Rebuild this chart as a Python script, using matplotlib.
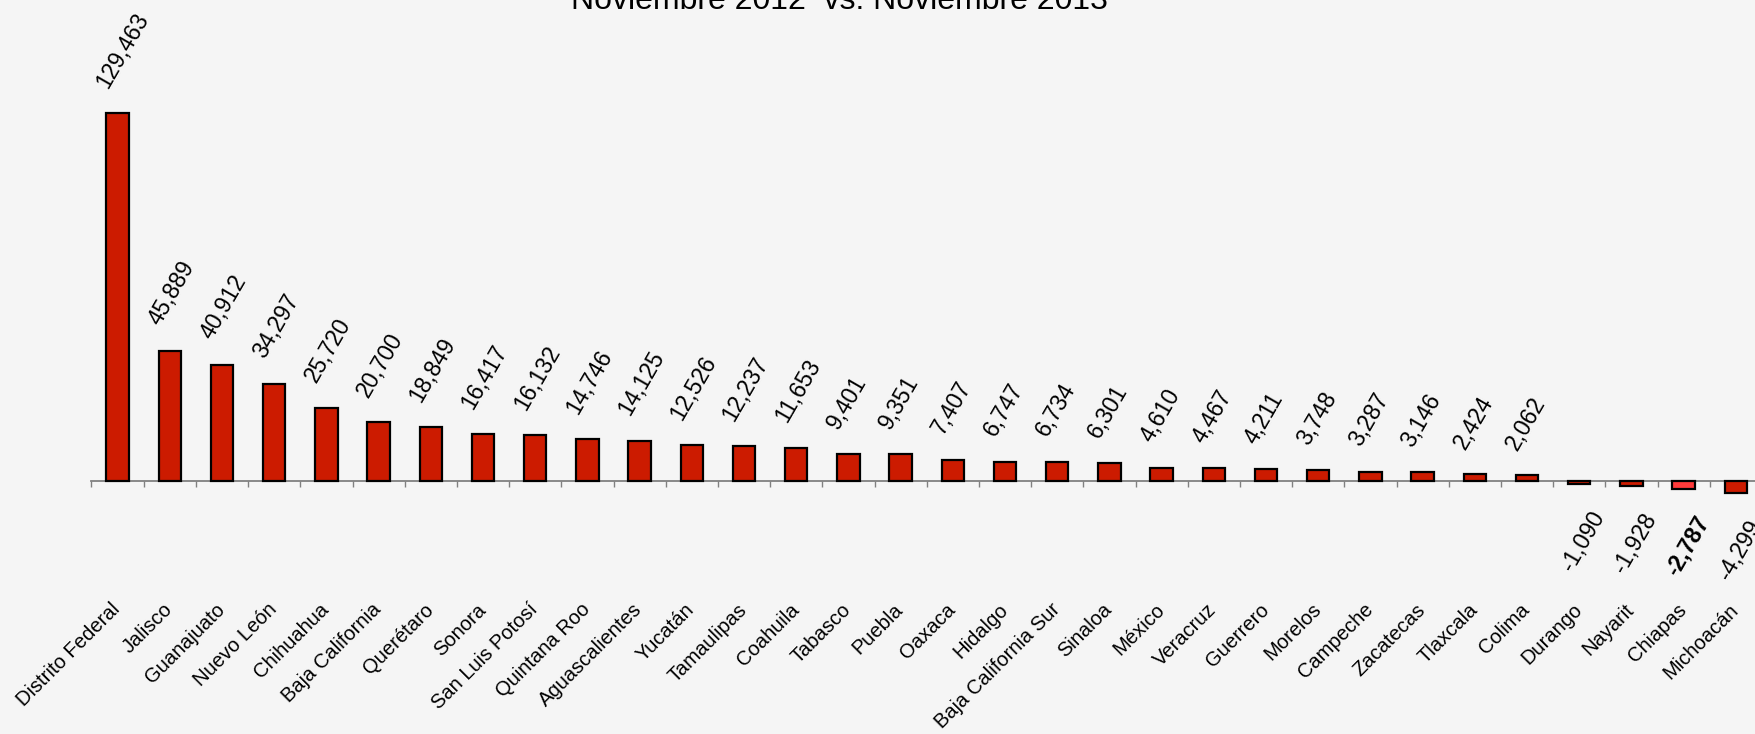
import numpy as np
import matplotlib.pyplot as plt

estados = ['Distrito Federal', 'Jalisco', 'Guanajuato', 'Nuevo León', 'Chihuahua',
           'Baja California', 'Querétaro', 'Sonora', 'San Luis Potosí', 'Quintana Roo',
           'Aguascalientes', 'Yucatán', 'Tamaulipas', 'Coahuila', 'Tabasco', 'Puebla',
           'Oaxaca', 'Hidalgo', 'Baja California Sur', 'Sinaloa', 'México', 'Veracruz',
           'Guerrero', 'Morelos', 'Campeche', 'Zacatecas', 'Tlaxcala', 'Colima',
           'Durango', 'Nayarit', 'Chiapas', 'Michoacán']
variacion = [129463, 45889, 40912, 34297, 25720, 20700, 18849, 16417, 16132, 14746,
             14125, 12526, 12237, 11653, 9401, 9351, 7407, 6747, 6734, 6301, 4610,
             4467, 4211, 3748, 3287, 3146, 2424, 2062, -1090, -1928, -2787, -4299]
resaltado = 'Chiapas'

bg = '#f5f5f5'
plt.rcParams['font.family'] = ['Liberation Sans', 'DejaVu Sans']

fig = plt.figure(figsize=(17.56, 7.34), dpi=100, facecolor=bg)
ax = fig.add_axes([0.0521, 0.2673, 0.9513, 0.6191])
ax.set_facecolor(bg)

x = np.arange(len(estados))
colores = ['#ff3b3b' if e == resaltado else '#cc1b00' for e in estados]
ax.bar(x, variacion, width=0.43, color=colores, edgecolor='black', linewidth=1.6, zorder=3)

ax.set_xlim(-0.5, len(estados) - 0.5)
ax.set_ylim(-20000, 140000)

for s in ['top', 'right', 'left']:
    ax.spines[s].set_visible(False)
ax.spines['bottom'].set_position(('data', 0))
ax.spines['bottom'].set_color('#808080')
ax.spines['bottom'].set_linewidth(1.3)
ax.spines['bottom'].set_zorder(2)
ax.set_yticks([])
ax.set_xticks([])
ax.set_xticks(np.arange(len(estados) + 1) - 0.5, minor=True)
ax.tick_params(axis='x', which='minor', length=4.5, width=1, color='#808080', direction='out')

# etiquetas de valores
for i, v in enumerate(variacion):
    txt = f'{v:,}'
    peso = 'bold' if estados[i] == resaltado else 'normal'
    if v >= 0:
        ax.annotate(txt, xy=(i, v), xytext=(-10, 24), textcoords='offset pixels',
                    rotation=60, rotation_mode='anchor', ha='left', va='baseline',
                    fontsize=16.5, fontweight=peso, annotation_clip=False)
    else:
        ax.annotate(txt, xy=(i, v), xytext=(10, -23), textcoords='offset pixels',
                    rotation=60, rotation_mode='anchor', ha='right', va='top',
                    fontsize=16.5, fontweight=peso, annotation_clip=False)

# nombres de los estados
for i, e in enumerate(estados):
    ax.annotate(e, xy=(i, 0), xytext=(-7, -119), textcoords='offset pixels',
                rotation=45, rotation_mode='anchor', ha='right', va='top',
                fontsize=14.5, annotation_clip=False)

fig.text(0.478, 0.988, 'Noviembre 2012  vs. Noviembre 2013', ha='center', va='baseline',
         fontsize=23)

fig.savefig('out.png', dpi=100, facecolor=bg)
